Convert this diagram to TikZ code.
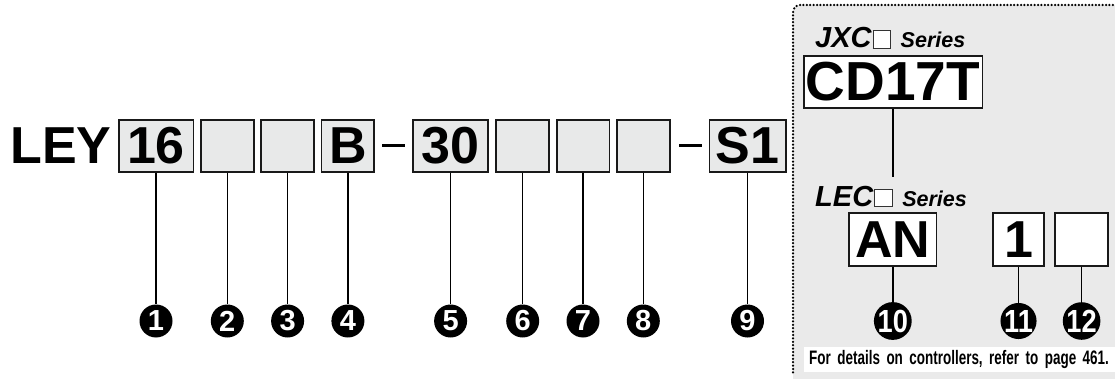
\documentclass[tikz,border=0pt]{standalone}
\usepackage{fontspec}
\setmainfont{Liberation Sans}
\newfontfamily\numfont[FakeStretch=0.85]{Liberation Sans Bold}
\newfontfamily\notefont[FakeStretch=0.69]{Liberation Sans Bold}
\usepackage{xcolor}
\usepackage{tikz}
\usetikzlibrary{positioning, calc}
\definecolor{boxgray}{RGB}{232,233,233}
\definecolor{panelgray}{RGB}{234,234,234}
\newcommand{\sqbox}{{\setlength{\fboxrule}{0.8pt}\setlength{\fboxsep}{0pt}%
  \fcolorbox{black!80}{white}{\makebox[16.5pt]{\rule{0pt}{17pt}}}}}

\begin{document}
\begin{tikzpicture}[x=1pt, y=-1pt,
  codebox/.style={rectangle, draw=black!90, line width=1.8pt, fill=boxgray,
                  minimum width=52.8pt, minimum height=51.4pt, inner sep=0pt,
                  font=\fontsize{52}{52}\selectfont\bfseries},
  widebox/.style={codebox, minimum width=74.8pt},
  ctrlbox/.style={codebox, fill=white, minimum height=52.4pt},
  dashbar/.style={rectangle, fill=black, minimum width=23pt,
                  minimum height=3pt, inner sep=0pt},
  num/.style={circle, fill=black, minimum size=33pt, inner sep=0pt,
              text=white, font=\fontsize{29}{29}\selectfont\bfseries},
  numwide/.style={num, font=\numfont\fontsize{32}{32}\selectfont},
  link/.style={line width=1.5pt, black},
  series/.style={anchor=base west, inner sep=0pt,
                 font=\fontsize{29}{29}\selectfont\bfseries\itshape},
  notebox/.style={fill=white, minimum height=25pt, text width=330pt,
                  inner xsep=5pt, inner ysep=0pt, align=left,
                  font=\notefont\fontsize{19.5}{19.5}\selectfont},
  dotmark/.style={fill=black},
  node distance=5.7pt
]
\useasboundingbox (0,0) rectangle (1115,379);

% Controller panel
\fill[panelgray, rounded corners=6pt] (793,5) rectangle (1130,395);
\foreach \y in {12,15.4,...,374} \fill[dotmark] (793,\y) circle (1.25pt);
\foreach \x in {800,803.4,...,1116} \fill[dotmark] (\x,5) circle (1.25pt);
\fill[dotmark] (794.2,8.4) circle (1.25pt);
\fill[dotmark] (796.6,6.1) circle (1.25pt);

% Actuator code row
\node[widebox] (b16) at (156,146) {16};
\node[codebox, right=of b16] (b2) {};
\node[codebox, right=of b2] (b3) {};
\node[codebox, right=of b3] (bB) {B};
\node[dashbar, right=7pt of bB] (d1) {};
\node[widebox, right=6.7pt of d1] (b30) {30};
\node[codebox, right=6.5pt of b30] (b6) {};
\node[codebox, right=of b6] (b7) {};
\node[codebox, right=of b7] (b8) {};
\node[dashbar, right=8.3pt of b8] (d2) {};
\node[widebox, right=6.2pt of d2, minimum width=76.2pt] (bS1) {S1};

\node[left=6pt of b16, inner sep=0pt,
      font=\fontsize{52}{52}\selectfont\bfseries] (ley) {LEY};

% Number markers
\coordinate (numrow) at (0,321);
\node[num] (n1) at (b16 |- numrow) {1};
\node[num] (n2) at (b2 |- numrow) {2};
\node[num] (n3) at (b3 |- numrow) {3};
\node[num] (n4) at (bB |- numrow) {4};
\node[num] (n5) at (b30 |- numrow) {5};
\node[num] (n6) at (b6 |- numrow) {6};
\node[num] (n7) at (b7 |- numrow) {7};
\node[num] (n8) at (b8 |- numrow) {8};
\node[num] (n9) at (bS1 |- numrow) {9};

\draw[link] (b16) -- (n1);
\draw[link] (b2) -- (n2);
\draw[link] (b3) -- (n3);
\draw[link] (bB) -- (n4);
\draw[link] (b30) -- (n5);
\draw[link] (b6) -- (n6);
\draw[link] (b7) -- (n7);
\draw[link] (b8) -- (n8);
\draw[link] (bS1) -- (n9);

% Controller codes
\node[series] (jxc) at (815,48)
  {JXC\hspace{1pt}\sqbox\hspace{10pt}{\fontsize{21.5}{21.5}\selectfont Series}};
\node[ctrlbox, minimum width=178.8pt, minimum height=52.2pt,
      font=\fontsize{55}{55}\selectfont\bfseries] (cd) at (893,82) {CD17T};
\coordinate (cdend) at (893,177);
\draw[link] (cd) -- (cdend);

\node[series] (lec) at (815,206.5)
  {LEC\hspace{1pt}\sqbox\hspace{10pt}{\fontsize{21.5}{21.5}\selectfont Series}};
\node[ctrlbox, minimum width=87.2pt] (an) at (892.8,239.5) {AN};
\node[ctrlbox, minimum width=51.2pt] (b11) at (1018.5,239.5) {1};
\node[ctrlbox, right=9.3pt of b11] (b12) {};

\node[numwide] (n10) at (an |- numrow) {10};
\node[numwide] (n11) at (b11 |- numrow) {11};
\node[numwide] (n12) at (b12 |- numrow) {12};
\draw[link] (an) -- (n10);
\draw[link] (b11) -- (n11);
\draw[link] (b12) -- (n12);

% Note
\node[notebox, anchor=west] (note) at (804,359)
  {For details on controllers, refer to page 461.};

\end{tikzpicture}
\end{document}
